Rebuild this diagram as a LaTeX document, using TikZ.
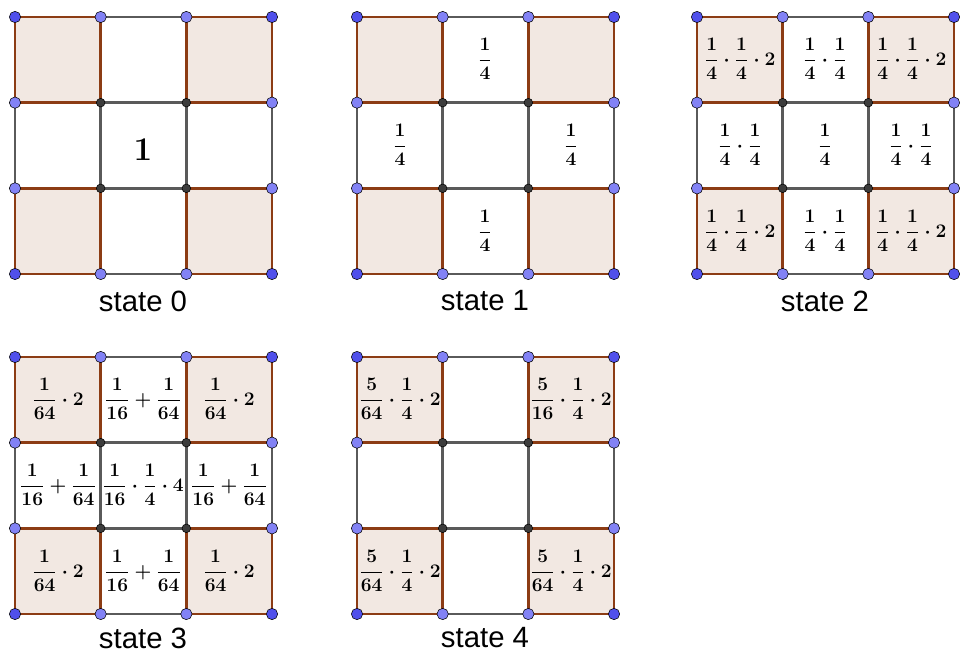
\documentclass[tikz,border=0pt]{standalone}
\usepackage{amsmath}
\usepackage{fontspec}
\setsansfont{Liberation Sans}
\definecolor{cellfill}{RGB}{242,232,226}
\definecolor{brownline}{RGB}{140,60,20}
\definecolor{grayline}{RGB}{90,90,90}
\definecolor{cornerdot}{RGB}{80,80,235}
\definecolor{edgedot}{RGB}{130,130,245}
\definecolor{innerdot}{RGB}{60,60,60}
\tikzset{
  corner/.style={fill=cellfill, draw=brownline, line width=1.8pt},
  plain/.style={draw=grayline, line width=1.8pt},
  dotc/.style={circle, fill=#1, draw=black, line width=0.4pt, inner sep=0pt, minimum size=8.5pt},
  caption/.style={font=\sffamily\fontsize{22}{26}\selectfont},
  celltext/.style={font=\boldmath\fontsize{14}{16}\selectfont}
}
% one 3x3 board with its origin at (#1,#2)
\newcommand{\board}[2]{%
  \begin{scope}[shift={(#1,#2)}]
    \foreach \i in {0,1,2} \foreach \j in {0,1,2}
      \draw[plain] (\i*85.67,\j*85.67) rectangle ++(85.67,85.67);
    \foreach \i in {0,2} \foreach \j in {0,2}
      \draw[corner] (\i*85.67,\j*85.67) rectangle ++(85.67,85.67);
    \foreach \i in {0,...,3} \foreach \j in {0,...,3} {
      \pgfmathtruncatemacro{\kind}{(\i==0||\i==3)+(\j==0||\j==3)}
      \ifnum\kind=2 \node[dotc=cornerdot] at (\i*85.67,\j*85.67) {};
      \else\ifnum\kind=1 \node[dotc=edgedot] at (\i*85.67,\j*85.67) {};
      \else \node[dotc=innerdot, minimum size=6.5pt] at (\i*85.67,\j*85.67) {};
      \fi\fi
    }
  \end{scope}}
\begin{document}
\begin{tikzpicture}[x=0.75pt, y=-0.75pt]
  \useasboundingbox (0,0) rectangle (966,659);
  \board{15}{17}\board{357}{17}\board{697}{17}\board{15}{357}\board{357}{357}

  % state 0
  \node[font=\boldmath\fontsize{24}{28}\selectfont] (s0c) at (143,150) {$\mathbf{1}$};
  \node[caption] (cap0) at (143,301) {state 0};

  % state 1
  \foreach \x/\y [count=\k] in {485/59, 400/145, 571/145, 485/231}
    \node[celltext] (s1n\k) at (\x,\y) {$\dfrac14$};
  \node[caption] (cap1) at (485,301) {state 1};

  % state 2
  \foreach \x/\y [count=\k] in {740/59, 911/59, 740/231, 911/231}
    \node[celltext] (s2c\k) at (\x,\y) {$\dfrac14\cdot\dfrac14\cdot2$};
  \foreach \x/\y [count=\k] in {825/59, 740/145, 911/145, 825/231}
    \node[celltext] (s2e\k) at (\x,\y) {$\dfrac14\cdot\dfrac14$};
  \node[celltext] (s2m) at (825,145) {$\dfrac14$};
  \node[caption] (cap2) at (825,301) {state 2};

  % state 3
  \foreach \x/\y [count=\k] in {58/399, 229/399, 58/571, 229/571}
    \node[celltext] (s3c\k) at (\x,\y) {$\dfrac1{64}\cdot2$};
  \foreach \x/\y [count=\k] in {143/399, 58/485, 229/485, 143/571}
    \node[celltext] (s3e\k) at (\x,\y) {$\dfrac1{16}+\dfrac1{64}$};
  \node[celltext] (s3m) at (143,485) {$\dfrac1{16}\cdot\dfrac14\cdot4$};
  \node[caption] (cap3) at (143,638) {state 3};

  % state 4
  \node[celltext] (s4a) at (400,399) {$\dfrac5{64}\cdot\dfrac14\cdot2$};
  \node[celltext] (s4b) at (571,399) {$\dfrac5{16}\cdot\dfrac14\cdot2$};
  \node[celltext] (s4c) at (400,571) {$\dfrac5{64}\cdot\dfrac14\cdot2$};
  \node[celltext] (s4d) at (571,571) {$\dfrac5{64}\cdot\dfrac14\cdot2$};
  \node[caption] (cap4) at (485,638) {state 4};
\end{tikzpicture}
\end{document}
